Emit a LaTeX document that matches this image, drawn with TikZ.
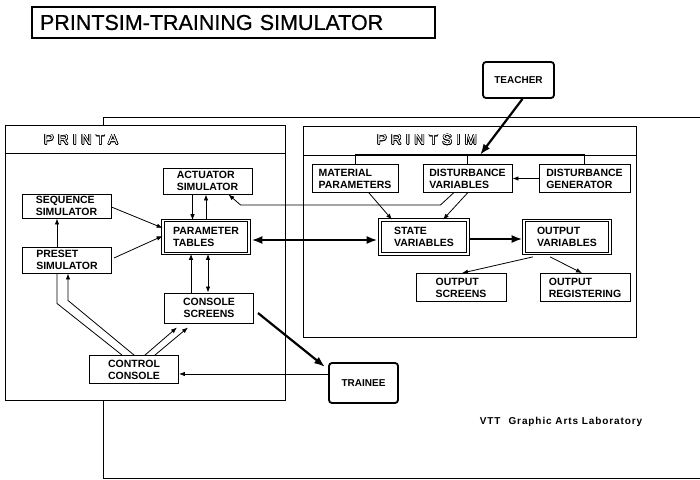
\documentclass[tikz,border=0pt]{standalone}
\usepackage{fontspec}
\usepackage{contour}
\setmainfont{Liberation Sans}
\usetikzlibrary{arrows.meta, calc}
\contourlength{0.6pt}

\begin{document}
\begin{tikzpicture}[x=1pt, y=-1pt, >={Latex[length=6pt,width=4.5pt]}, line width=0.8pt,
    box/.style={draw, fill=white, line width=0.9pt, inner sep=1.5pt, align=left,
        font=\fontsize{10.5}{12}\selectfont\bfseries, minimum width=89pt, minimum height=28pt},
    dbox/.style={box, double, double distance=1.8pt, line width=0.7pt, minimum width=86pt, minimum height=33pt},
    person/.style={draw, fill=white, line width=1.8pt, rounded corners=3pt,
        font=\fontsize{10}{11}\selectfont\bfseries},
    heavy/.style={line width=2.2pt, >={Latex[length=11pt,width=8pt]}},
    hdr/.style={font=\fontsize{14.5}{14}\selectfont\addfontfeatures{LetterSpace=30}}]

\useasboundingbox (0,0) rectangle (700,479);

%\draw[step=50,color=gray!40] (0,0) grid (700,479);

\node[draw, line width=1.5pt, minimum height=31pt, text width=387pt, inner xsep=8pt, align=left,
    font=\fontsize{21.5}{22}\selectfont\addfontfeatures{FakeBold=0.8}] (title) at (233.5,22.5) {PRINTSIM-TRAINING SIMULATOR};

% frames
\draw (700,117) -- (103,117) -- (103,478) -- (700,478);

\draw[fill=white, line width=1pt] (5,125) rectangle (285,400);
\draw[line width=1pt] (5,153) -- (285,153);
\node[hdr] (printa) at (81,140) {\color{white}\contour{black}{PRINTA}};

\draw[fill=white, line width=1pt] (303,126) rectangle (636,337);
\draw[line width=1pt] (303,155) -- (636,155);
\node[hdr] (printsim) at (427,140) {\color{white}\contour{black}{PRINTSIM}};

% boxes
\node[person, minimum width=71pt, minimum height=36pt] (teacher) at (518.5,80) {TEACHER};
\node[box, minimum width=86pt] (mat) at (355,178.5) {MATERIAL\\PARAMETERS};
\node[box] (dvar) at (467.5,178.5) {DISTURBANCE\\VARIABLES};
\node[box, minimum width=91pt] (dgen) at (584.5,178.5) {DISTURBANCE\\GENERATOR};
\node[dbox, minimum width=88pt, minimum height=34pt] (state) at (424,237) {STATE\\VARIABLES};
\node[dbox] (outv) at (567,237) {OUTPUT\\VARIABLES};
\node[box, minimum width=90pt] (oscr) at (461,287.5) {OUTPUT\\SCREENS};
\node[box, minimum width=90pt] (oreg) at (585,287.5) {OUTPUT\\REGISTERING};

\node[box, minimum height=26pt] (act) at (207.5,181) {ACTUATOR\\SIMULATOR};
\node[box, minimum height=24pt] (seq) at (66.5,206) {SEQUENCE\\SIMULATOR};
\node[dbox] (ptab) at (206,237) {PARAMETER\\TABLES};
\node[box, minimum height=26pt] (preset) at (67,260) {PRESET\\SIMULATOR};
\node[box, align=center, minimum height=30pt] (cscr) at (209,308) {CONSOLE\\SCREENS};
\node[box, align=center] (ccon) at (134,369.5) {CONTROL\\CONSOLE};
\node[person, minimum width=69pt, minimum height=40pt] (trainee) at (363.5,383) {TRAINEE};

\node[font=\fontsize{10}{10}\selectfont\bfseries\addfontfeatures{LetterSpace=9}] (vtt) at (561,422) {VTT\hspace{8pt}Graphic Arts Laboratory};

% teacher bus
\coordinate (bus) at (480,155);
\draw[line width=1.6pt] (mat.north |- bus) -- (dgen.north |- bus);
\foreach \b in {mat,dvar,dgen}
    \draw (\b.north |- bus) -- (\b.north);
\draw[heavy, ->] ($(teacher.south)+(4,0)$) -- (bus);

% printsim connectors
\draw[->] (dgen.west) -- (dvar.east);
\draw[->] ($(mat.south)+(14,0)$) -- ($(state.north)+(-32,0)$);
\draw[->] (dvar.south) -- ($(state.north)+(19,0)$);
\draw[->] ($(dvar.south)+(-14,0)$) -- ++(-13,12) -- ++(-200,0) -- ($(act.south east)+(-24,0)$);
\draw[heavy, <->] ($(ptab.east)+(2,3)$) -- ($(state.west)+(-2,3)$);
\draw[heavy, ->] ($(state.east)+(2,2)$) -- ($(outv.west)+(-1,2)$);
\draw[->] ($(outv.south)+(-34,3)$) -- ($(oscr.north)+(1,0)$);
\draw[->] ($(outv.south)+(-17,3)$) -- ($(oreg.north)+(-3,0)$);

% printa connectors
\draw[->] ($(act.south)+(-15,0)$) coordinate (a1) -- (a1 |- ptab.north);
\draw[->] (ptab.north) -- (ptab.north |- act.south);
\draw[->] ($(seq.east)+(0,1)$) -- ($(ptab.west)+(0,-9)$);
\draw[->] ($(preset.east)+(2,-2)$) -- ($(ptab.west)+(0,-1)$);
\draw[->] ($(preset.north)+(-10,0)$) coordinate (p1) -- (p1 |- seq.south);
\draw[->] ($(cscr.north)+(-18,0)$) coordinate (c1) -- (c1 |- ptab.south);
\draw[<->] ($(cscr.north)+(-1,0)$) coordinate (c2) -- (c2 |- ptab.south);

\draw ($(ccon.north)+(-12,0)$) -- ($(preset.south)+(-10,30)$) -- ($(preset.south)+(-10,0)$);
\draw[->] (ccon.north) -- ($(preset.south)+(1,27)$) -- ($(preset.south)+(1,0)$);
\draw[->] ($(ccon.north)+(11,0)$) -- ($(cscr.south)+(-32,4)$);
\draw[->] ($(ccon.north)+(21,0)$) -- ($(cscr.south)+(-21,4)$);

\draw[heavy, ->] ($(cscr.east)+(4,5)$) -- ($(trainee.west)+(-3,-16)$);
\draw[->] ($(trainee.west)+(0,-9)$) coordinate (t1) -- (t1 -| ccon.east);

\end{tikzpicture}
\end{document}
